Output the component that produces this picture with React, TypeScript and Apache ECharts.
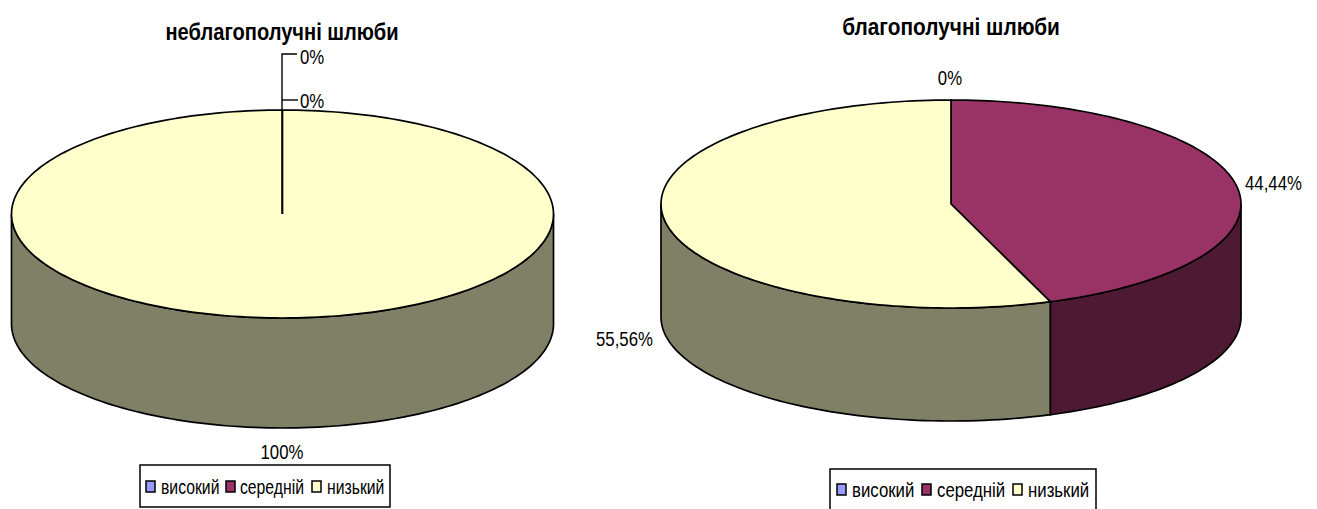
import React, { useEffect, useRef } from "react";
import * as echarts from "echarts";

const categories = ["високий", "середній", "низький"];
const topColors = ["#9999FF", "#993366", "#FFFFCC"];
const sideColors = ["#4D4D80", "#4D1933", "#808066"];
const leftValues = [0, 0, 100];
const rightValues = [0, 44.44, 55.56];
const leftTitle = "неблагополучні шлюби";
const rightTitle = "благополучні шлюби";
const FONT = "'Liberation Sans', Arial, sans-serif";

const leftPie = { cx: 282.5, cy: 214, rx: 271, ry: 104, depth: 110 };
const rightPie = { cx: 951, cy: 204, rx: 290, ry: 104, depth: 113 };

const leftLegend = {
  box: [140, 465, 250, 42],
  swatchX: [146, 226, 312],
  textX: [161, 240, 327],
  swatchY: 481,
  textY: 487,
  scale: 0.75,
};
const rightLegend = {
  box: [830, 469, 266, 42],
  swatchX: [837, 922, 1013],
  textX: [852, 937, 1028],
  swatchY: 484,
  textY: 490,
  scale: 0.8,
};

type Pie = typeof leftPie;

function pct(v: number) {
  return String(v).replace(".", ",") + "%";
}

function makeSeries(values: number[], pie: Pie) {
  const total = values.reduce((a, b) => a + b, 0);
  return categories.map((name, i) => {
    const before = values.slice(0, i).reduce((a, b) => a + b, 0);
    return {
      type: "custom",
      name,
      coordinateSystem: "none",
      silent: true,
      itemStyle: { color: topColors[i] },
      data: [[values[i]]],
      renderItem: (_p: any, api: any) => {
        const v = api.value(0);
        if (!v) return { type: "group", children: [] };
        const a0 = (before / total) * 360;
        const a1 = ((before + v) / total) * 360;
        const pt = (deg: number, dy = 0) => {
          const t = (deg * Math.PI) / 180;
          return [pie.cx + pie.rx * Math.sin(t), pie.cy - pie.ry * Math.cos(t) + dy];
        };
        const arc = (from: number, to: number, dy = 0) => {
          const out: number[][] = [];
          const n = Math.max(2, Math.ceil(Math.abs(to - from) / 1.5));
          for (let k = 0; k <= n; k++) out.push(pt(from + ((to - from) * k) / n, dy));
          return out;
        };
        const children: any[] = [];
        const w0 = Math.max(a0, 90);
        const w1 = Math.min(a1, 270);
        if (w1 > w0) {
          children.push({
            type: "polygon",
            shape: { points: [...arc(w0, w1), ...arc(w1, w0, pie.depth)] },
            style: { fill: sideColors[i], stroke: "#000", lineWidth: 1.7 },
          });
        }
        children.push({
          type: "polygon",
          shape: { points: [[pie.cx, pie.cy], ...arc(a0, a1)] },
          style: { fill: topColors[i], stroke: "#000", lineWidth: 1.7 },
        });
        return { type: "group", children };
      },
    };
  });
}

function text(
  content: string,
  x: number,
  y: number,
  opts: { align?: string; size?: number; scale?: number; bold?: boolean } = {}
) {
  const { align = "center", size = 21, scale = 0.8, bold = false } = opts;
  return {
    type: "text",
    x,
    y,
    z: 10,
    scaleX: scale,
    style: {
      text: content,
      fill: "#000",
      font: `${bold ? "bold " : ""}${size}px ${FONT}`,
      align,
      verticalAlign: "middle",
    },
  };
}

function leader(points: number[][]) {
  return {
    type: "polyline",
    z: 9,
    shape: { points },
    style: { fill: "none", stroke: "#000", lineWidth: 1.4 },
  };
}

function legendElements(l: typeof leftLegend) {
  const [x, y, width, height] = l.box;
  return [
    {
      type: "rect",
      z: 8,
      shape: { x, y, width, height },
      style: { fill: "#fff", stroke: "#000", lineWidth: 1.5 },
    },
    ...categories.flatMap((name, i) => [
      {
        type: "rect",
        z: 9,
        shape: { x: l.swatchX[i], y: l.swatchY, width: 9, height: 11 },
        style: { fill: topColors[i], stroke: "#000", lineWidth: 1.5 },
      },
      text(name, l.textX[i], l.textY, { align: "left", size: 21, scale: l.scale }),
    ]),
  ];
}

export default function App() {
  const ref = useRef<HTMLDivElement>(null);
  useEffect(() => {
    const chart = echarts.init(ref.current!, undefined, { renderer: "svg" });
    chart.setOption({
      animation: false,
      backgroundColor: "#fff",
      series: [...makeSeries(leftValues, leftPie), ...makeSeries(rightValues, rightPie)],
      graphic: [
        text(leftTitle, 282, 32, { size: 24, scale: 0.838, bold: true }),
        text(rightTitle, 951, 27, { size: 24, scale: 0.868, bold: true }),
        leader([[282, 214], [282, 54], [297, 54]]),
        leader([[282, 100], [298, 100]]),
        text(pct(leftValues[0]), 300, 57, { align: "left" }),
        text(pct(leftValues[1]), 300, 101, { align: "left" }),
        text(pct(leftValues[2]), 282, 452),
        text(pct(rightValues[0]), 950, 78),
        text(pct(rightValues[1]), 1245, 183, { align: "left" }),
        text(pct(rightValues[2]), 596, 339, { align: "left" }),
        ...legendElements(leftLegend),
        ...legendElements(rightLegend),
      ],
    });
    return () => chart.dispose();
  }, []);
  return <div ref={ref} style={{ position: "fixed", left: 0, top: 0, width: 1317, height: 509 }} />;
}
